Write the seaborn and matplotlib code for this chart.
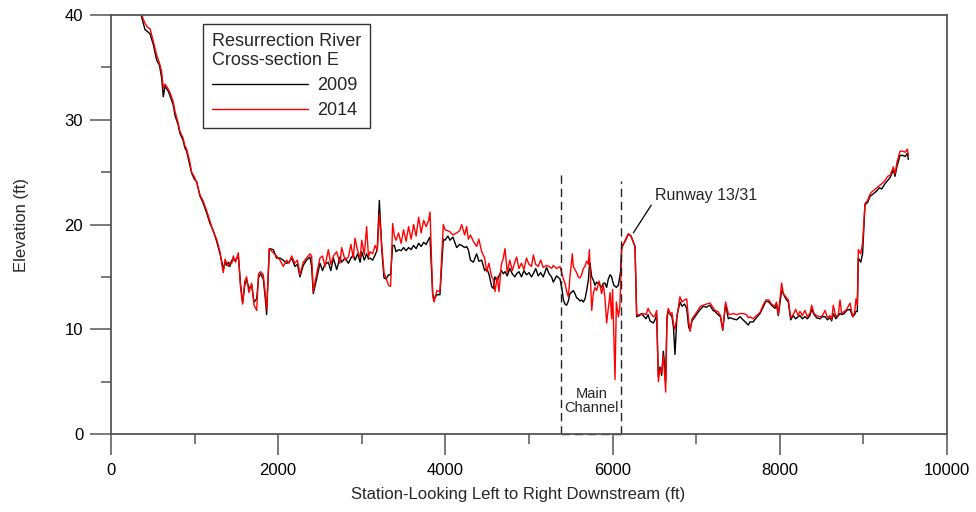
import matplotlib
matplotlib.use("Agg")
import matplotlib.pyplot as plt
import seaborn as sns
import pandas as pd
import numpy as np
from matplotlib.ticker import MultipleLocator

# ---------------- data ----------------
station = [340, 367, 407, 440, 467, 506, 546, 580, 606, 626, 646, 680, 706, 745, 766, 800, 825, 860, 885, 905,
           940, 965, 1000, 1025, 1065, 1100, 1145, 1184, 1220, 1264, 1304, 1330, 1344, 1365, 1384, 1405, 1423, 1445, 1463, 1490,
           1523, 1550, 1575, 1600, 1623, 1650, 1683, 1711, 1743, 1765, 1790, 1822, 1845, 1862, 1894, 1942, 1980, 2022, 2060, 2101,
           2130, 2161, 2200, 2230, 2261, 2300, 2340, 2380, 2400, 2420, 2460, 2500, 2530, 2560, 2600, 2630, 2660, 2700, 2739, 2759,
           2800, 2840, 2870, 2898, 2919, 2950, 2980, 3000, 3030, 3058, 3080, 3098, 3130, 3160, 3185, 3210, 3240, 3266, 3290, 3320,
           3345, 3369, 3390, 3409, 3440, 3470, 3500, 3530, 3560, 3590, 3620, 3650, 3680, 3710, 3740, 3770, 3800, 3816, 3848, 3864,
           3900, 3935, 3975, 3995, 4030, 4055, 4090, 4135, 4170, 4195, 4230, 4254, 4274, 4300, 4334, 4374, 4400, 4434, 4470, 4494,
           4520, 4553, 4573, 4593, 4620, 4641, 4670, 4693, 4713, 4740, 4770, 4800, 4830, 4852, 4880, 4910, 4940, 4970, 5000, 5030,
           5052, 5080, 5110, 5140, 5170, 5211, 5240, 5270, 5291, 5330, 5371, 5395, 5411, 5431, 5451, 5471, 5490, 5518, 5530, 5550,
           5570, 5590, 5610, 5630, 5650, 5670, 5690, 5710, 5722, 5730, 5750, 5769, 5790, 5809, 5840, 5869, 5890, 5909, 5929, 5949,
           5970, 5989, 6000, 6015, 6029, 6045, 6069, 6085, 6095, 6109, 6150, 6189, 6220, 6268, 6288, 6320, 6345, 6368, 6400, 6425,
           6447, 6487, 6507, 6527, 6547, 6567, 6587, 6607, 6622, 6635, 6650, 6667, 6690, 6710, 6728, 6746, 6770, 6806, 6830, 6860,
           6886, 6910, 6926, 6950, 6986, 7020, 7050, 7085, 7120, 7165, 7200, 7225, 7260, 7290, 7317, 7352, 7384, 7404, 7440, 7484,
           7524, 7560, 7600, 7623, 7643, 7680, 7720, 7763, 7800, 7835, 7870, 7900, 7943, 7960, 7982, 8022, 8042, 8072, 8102, 8130,
           8160, 8190, 8220, 8241, 8270, 8300, 8330, 8360, 8381, 8410, 8440, 8480, 8510, 8541, 8570, 8600, 8620, 8640, 8670, 8700,
           8720, 8740, 8770, 8800, 8840, 8872, 8895, 8911, 8927, 8939, 8968, 8990, 9019, 9050, 9080, 9099, 9130, 9159, 9190, 9220,
           9258, 9290, 9320, 9358, 9378, 9400, 9438, 9470, 9500, 9526, 9538]

elev_2009 = [40.6, 39.8, 38.6, 38.4, 38.2, 37.2, 35.7, 35.2, 34.0, 32.2, 33.2, 32.8, 32.3, 31.4, 30.4, 29.6, 28.7, 28.1, 27.3, 27.0,
             25.8, 24.9, 24.3, 24.1, 22.7, 22.1, 21.1, 20.1, 19.5, 18.4, 17.2, 16.3, 15.7, 16.4, 16.1, 16.4, 16.0, 16.6, 16.6, 16.6,
             17.0, 14.3, 12.5, 14.2, 14.7, 13.9, 14.2, 12.6, 12.9, 14.9, 15.3, 14.8, 13.0, 11.4, 17.7, 17.6, 16.8, 16.8, 16.6, 16.3,
             16.4, 16.8, 16.0, 16.2, 15.0, 16.1, 16.6, 16.9, 16.0, 13.4, 14.8, 16.3, 15.6, 16.2, 16.4, 15.6, 16.8, 15.7, 16.9, 16.4,
             16.8, 16.3, 16.8, 17.1, 16.6, 17.2, 16.4, 17.4, 16.6, 17.2, 16.7, 16.8, 16.6, 17.1, 17.6, 22.3, 17.5, 14.9, 14.8, 15.2,
             15.2, 18.0, 18.0, 17.4, 17.6, 17.5, 17.8, 17.5, 17.8, 17.6, 18.0, 17.7, 18.2, 17.9, 18.3, 18.1, 18.6, 18.8, 13.4, 12.9,
             13.3, 13.3, 18.6, 18.5, 18.9, 18.5, 18.8, 17.8, 18.1, 18.0, 17.8, 17.9, 17.6, 16.6, 16.4, 17.2, 16.5, 16.6, 15.6, 15.8,
             15.3, 14.1, 13.9, 15.0, 14.6, 15.1, 15.6, 15.3, 15.5, 15.1, 15.8, 15.3, 15.0, 15.3, 15.5, 15.0, 15.6, 15.2, 15.4, 15.0,
             15.3, 15.8, 15.1, 15.4, 15.0, 15.9, 15.3, 15.0, 14.5, 15.1, 14.8, 13.8, 12.8, 12.4, 12.3, 12.7, 13.4, 13.6, 13.7, 13.4,
             13.0, 12.9, 12.7, 12.8, 12.6, 12.9, 13.7, 14.7, 16.0, 16.3, 15.0, 14.7, 14.2, 14.5, 14.3, 14.0, 14.4, 14.4, 14.0, 14.8,
             15.2, 15.0, 14.6, 14.2, 14.1, 14.0, 14.2, 15.0, 15.5, 17.9, 18.4, 19.1, 18.9, 17.9, 11.2, 11.3, 11.5, 11.3, 11.0, 11.4,
             10.8, 10.6, 10.9, 11.4, 5.5, 6.4, 5.6, 7.9, 6.6, 5.0, 11.0, 11.8, 11.4, 11.2, 10.2, 7.6, 11.3, 12.6, 12.2, 12.4,
             12.0, 10.2, 9.9, 10.8, 11.2, 11.6, 11.9, 12.2, 12.1, 12.3, 11.8, 11.7, 11.4, 11.2, 9.9, 12.4, 11.0, 11.1, 11.0, 10.9,
             11.2, 10.9, 10.6, 10.4, 10.7, 10.7, 11.1, 11.5, 12.1, 12.7, 12.6, 12.3, 12.0, 12.4, 11.3, 13.7, 13.4, 12.9, 12.6, 10.9,
             11.3, 11.0, 11.2, 11.3, 11.0, 11.2, 11.0, 11.3, 11.9, 11.4, 11.1, 11.0, 11.2, 11.2, 10.9, 11.1, 10.8, 11.5, 11.0, 11.3,
             11.5, 11.4, 11.5, 11.8, 11.9, 11.2, 11.4, 11.7, 11.7, 16.8, 16.4, 17.2, 21.9, 22.1, 22.7, 22.8, 23.0, 23.2, 23.5, 23.4,
             23.9, 24.2, 24.5, 25.2, 24.6, 25.5, 26.6, 26.6, 26.5, 26.8, 26.2]

elev_2014 = [40.6, 40.0, 39.2, 38.8, 38.7, 37.5, 36.2, 35.4, 34.6, 33.0, 33.4, 33.0, 32.6, 31.7, 30.8, 29.8, 28.9, 28.3, 27.5, 27.2,
             26.1, 25.0, 24.5, 24.0, 22.8, 22.3, 21.3, 20.3, 19.4, 18.6, 17.4, 16.0, 15.4, 16.7, 16.3, 16.0, 16.4, 16.3, 17.0, 16.4,
             17.3, 14.0, 12.4, 14.6, 15.0, 13.5, 14.4, 12.3, 11.8, 15.3, 15.5, 15.2, 13.4, 11.9, 17.7, 17.3, 17.0, 16.6, 16.0, 16.6,
             16.3, 17.0, 16.3, 16.6, 15.2, 16.4, 16.8, 17.2, 17.0, 13.6, 15.3, 16.8, 17.0, 16.0, 17.6, 16.2, 17.0, 17.4, 16.3, 17.8,
             16.6, 16.9, 18.1, 16.8, 18.7, 17.5, 16.8, 18.5, 17.1, 19.8, 16.9, 17.4, 17.2, 18.0, 17.5, 21.0, 17.9, 15.4, 14.9, 14.2,
             14.1, 20.1, 18.9, 18.5, 19.2, 18.2, 19.5, 18.4, 19.8, 18.6, 20.0, 18.9, 20.7, 19.2, 20.4, 19.8, 20.4, 21.2, 13.2, 12.6,
             13.7, 13.6, 20.0, 19.5, 19.4, 19.3, 19.0, 19.2, 19.4, 20.0, 19.0, 19.8, 18.6, 19.0, 18.4, 17.9, 18.6, 17.4, 16.8, 15.5,
             16.3, 15.0, 14.8, 13.6, 15.0, 13.6, 16.2, 16.8, 17.7, 15.4, 16.6, 15.6, 16.4, 16.9, 15.8, 16.3, 15.7, 16.8, 16.2, 16.0,
             17.1, 16.2, 16.0, 16.6, 15.9, 16.1, 16.0, 15.8, 16.1, 15.8, 16.0, 15.3, 14.8, 14.4, 13.6, 13.1, 15.0, 17.2, 16.0, 15.7,
             15.4, 15.0, 14.9, 15.2, 15.8, 16.0, 16.5, 16.2, 17.6, 16.0, 11.8, 13.4, 14.0, 13.7, 14.6, 13.4, 14.2, 13.0, 10.6, 12.0,
             13.5, 11.0, 13.8, 9.5, 5.2, 12.6, 11.2, 12.0, 14.0, 17.7, 18.5, 19.1, 18.9, 17.9, 11.4, 11.4, 11.4, 11.5, 11.4, 12.0,
             11.6, 11.2, 11.3, 11.8, 5.0, 6.2, 5.8, 7.5, 5.6, 4.0, 11.2, 12.0, 11.4, 11.6, 10.5, 10.0, 11.2, 13.1, 12.6, 12.8,
             12.9, 10.8, 9.8, 11.0, 11.4, 11.8, 12.2, 12.3, 12.4, 12.5, 12.1, 11.8, 11.7, 11.3, 10.0, 12.6, 11.5, 11.4, 11.5, 11.4,
             11.5, 11.5, 11.4, 11.1, 11.2, 11.0, 11.3, 11.6, 12.3, 12.8, 12.8, 12.4, 12.2, 12.6, 11.4, 14.4, 13.4, 13.1, 12.8, 11.1,
             11.4, 11.9, 11.3, 11.7, 11.3, 11.8, 11.2, 11.5, 12.3, 11.5, 11.3, 11.2, 11.3, 11.8, 11.1, 11.3, 10.9, 12.3, 11.2, 11.4,
             12.8, 11.5, 11.7, 11.9, 12.5, 11.2, 11.6, 12.9, 12.3, 17.6, 17.2, 18.2, 22.0, 22.3, 22.9, 23.1, 23.3, 23.5, 23.7, 23.9,
             24.2, 24.6, 24.7, 25.5, 24.8, 25.9, 27.0, 27.0, 26.9, 27.2, 26.6]

years = ["2009", "2014"]
line_colors = ["#000000", "#ff0000"]
legend_title = "Resurrection River\nCross-section E"

channel_left = 5380
channel_right = 6100
channel_left_top = 25.0
channel_right_top = 24.2

x_ticks = [0, 2000, 4000, 6000, 8000, 10000]
y_ticks = [0, 10, 20, 30, 40]

# ---------------- figure ----------------
sns.set_style("white")
plt.rcParams["font.family"] = ["Liberation Sans", "DejaVu Sans"]

fig = plt.figure(figsize=(9.76, 5.12), dpi=100)
ax = fig.add_axes([0.1137, 0.1523, 0.9703 - 0.1137, 0.9707 - 0.1523])

df = pd.DataFrame({
    "Station": station * 2,
    "Elevation": elev_2009 + elev_2014,
    "Year": [years[0]] * len(station) + [years[1]] * len(station),
})

sns.lineplot(data=df, x="Station", y="Elevation", hue="Year",
             palette=dict(zip(years, line_colors)), sort=False,
             estimator=None, linewidth=1.0, ax=ax)

ax.set_xlim(0, 10000)
ax.set_ylim(0, 40)
ax.set_xticks(x_ticks)
ax.set_yticks(y_ticks)
ax.xaxis.set_minor_locator(MultipleLocator(1000))
ax.yaxis.set_minor_locator(MultipleLocator(5))

spine_c = "#555555"
for s in ax.spines.values():
    s.set_color(spine_c)
    s.set_linewidth(1.3)
    s.set_visible(True)

ax.tick_params(axis="both", which="major", direction="out", length=15, width=1.1,
               color=spine_c, labelsize=12, labelcolor="black",
               bottom=True, left=True, top=False, right=False)
ax.tick_params(axis="both", which="minor", direction="out", length=7, width=1.1,
               color=spine_c, bottom=True, left=True, top=False, right=False)
ax.tick_params(axis="x", which="major", pad=6)
ax.tick_params(axis="y", which="major", pad=5)

ax.set_xlabel("Station-Looking Left to Right Downstream (ft)", fontsize=12, labelpad=0)
ax.set_ylabel("Elevation (ft)", fontsize=12)
ax.xaxis.set_label_coords(0.487, -0.127)
ax.yaxis.set_label_coords(-0.098, 0.5)

# main channel markers
dash = (0, (6, 3.5))
ax.plot([channel_left, channel_left], [0, channel_left_top], color="#222222", lw=1.0, linestyle=dash)
ax.plot([channel_right, channel_right], [0, channel_right_top], color="#222222", lw=1.0, linestyle=dash)
ax.plot([channel_left, channel_right], [0, 0], color="#222222", lw=1.0, linestyle=dash, clip_on=False)
ax.text((channel_left + channel_right) / 2 + 10, 3.2, "Main\nChannel", ha="center", va="center",
        fontsize=10.5, linespacing=1.0)

# runway annotation
ax.annotate("Runway 13/31", xy=(6248, 19.2), xytext=(6510, 22.8),
            fontsize=11.5, ha="left", va="center",
            arrowprops=dict(arrowstyle="-", color="black", lw=0.9,
                            shrinkA=1, shrinkB=0, relpos=(0, 0.25)))

# legend
handles, labels = ax.get_legend_handles_labels()
if ax.get_legend() is not None:
    ax.get_legend().remove()
leg = ax.legend(handles, labels, title=legend_title, loc="upper left",
                bbox_to_anchor=(0.110, 0.978), borderaxespad=0,
                fontsize=13, title_fontsize=13, alignment="left",
                handlelength=5.3, handletextpad=0.55, labelspacing=0.45,
                borderpad=0.5, fancybox=False, framealpha=1)
leg.get_frame().set_edgecolor("#333333")
leg.get_frame().set_linewidth(1.0)
leg.get_title().set_linespacing(1.15)
for h in leg.get_lines():
    h.set_linewidth(1.0)

fig.savefig("out.png", dpi=100)
